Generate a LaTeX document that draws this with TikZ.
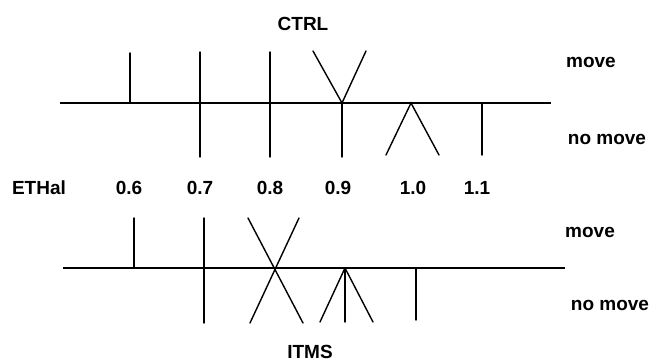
\documentclass[tikz,border=0pt]{standalone}
\usepackage{fontspec}
\setmainfont{Liberation Sans}
\usetikzlibrary{positioning}

\begin{document}
\begin{tikzpicture}[x=1pt,y=-1pt]
      \tikzstyle{axis}=[line width=1.6pt]
      \tikzstyle{tick}=[line width=1.4pt, line cap=round]
      \tikzstyle{lbl}=[font=\fontsize{19}{22}\selectfont\bfseries, inner sep=0pt]
      \useasboundingbox (0,0) rectangle (649,363);

      % CTRL scale
      \coordinate (ta) at (60,103);
      \coordinate (tb) at (551,103);
      \coordinate (c6) at (130,103);
      \coordinate (c7) at (200,103);
      \coordinate (c8) at (270,103);
      \coordinate (c9) at (342,103);
      \coordinate (c10) at (411,103);
      \coordinate (c11) at (482,103);
      \draw[axis] (ta) -- (tb);
      \draw[tick] (c6) -- ++(0,-50);
      \draw[tick] (c7) ++(0,-51) -- ++(0,105);
      \draw[tick] (c8) ++(0,-51) -- ++(0,105);
      \draw[tick] (c9) ++(-29,-52) -- (c9) -- ++(24,-52);
      \draw[tick] (c9) -- ++(0,54);
      \draw[tick] (c10) ++(-25,52) -- (c10) -- ++(28,52);
      \draw[tick] (c11) -- ++(0,52);

      % ITMS scale
      \coordinate (ba) at (63,268);
      \coordinate (bb) at (565,268);
      \coordinate (i6) at (134,268);
      \coordinate (i7) at (204,268);
      \coordinate (i8) at (275,268);
      \coordinate (i9) at (345,268);
      \coordinate (i10) at (416,268);
      \draw[axis] (ba) -- (bb);
      \draw[tick] (i6) -- ++(0,-50);
      \draw[tick] (i7) ++(0,-50) -- ++(0,105);
      \draw[tick] (i8) ++(-27,-50) -- ++(55,105);
      \draw[tick] (i8) ++(24,-50) -- ++(-49,105);
      \draw[tick] (i9) -- ++(-25,54);
      \draw[tick] (i9) -- ++(0,54);
      \draw[tick] (i9) -- ++(28,54);
      \draw[tick] (i10) -- ++(0,52);

      % labels
      \node[lbl] (ctrl) at (303,24) {CTRL};
      \node[lbl] (itms) at (310,352) {ITMS};
      \node[lbl] (tmove) at (591,62) {move};
      \node[lbl] (tnomove) at (607,139) {no move};
      \node[lbl] (bmove) at (590,232) {move};
      \node[lbl] (bnomove) at (610,305) {no move};
      \node[lbl] (ethal) at (39,188) {ETHal};
      \foreach \v/\x in {0.6/129, 0.7/200, 0.8/270, 0.9/338, 1.0/413, 1.1/477}
        \node[lbl] (v\x) at (\x,188) {\v};
\end{tikzpicture}
\end{document}
